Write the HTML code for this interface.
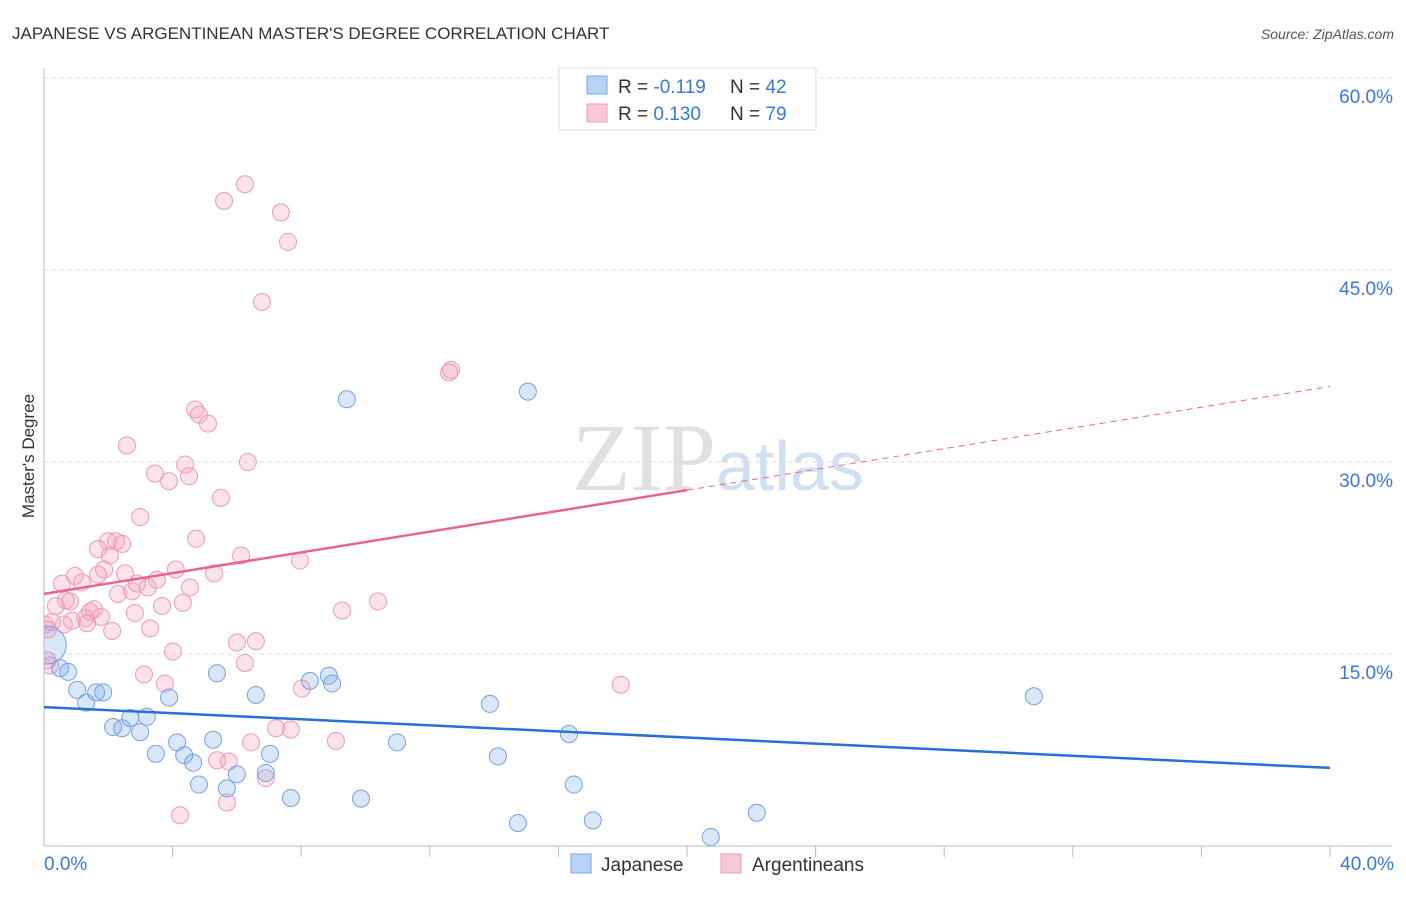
<!DOCTYPE html>
<html><head><meta charset="utf-8"><style>
body{margin:0;background:#fff;font-family:"Liberation Sans",sans-serif}
</style></head><body>
<svg id="c" width="1406" height="892" xmlns="http://www.w3.org/2000/svg" font-family="Liberation Sans, sans-serif">
<defs><clipPath id="plot"><rect x="44" y="60" width="1360" height="786"/></clipPath></defs>
<text x="12" y="39" font-size="17" fill="#333">JAPANESE VS ARGENTINEAN MASTER'S DEGREE CORRELATION CHART</text>
<text x="1394" y="39" font-size="14" fill="#555" font-style="italic" text-anchor="end">Source: ZipAtlas.com</text>
<text x="34" y="456" font-size="17" fill="#333" text-anchor="middle" transform="rotate(-90 34 456)">Master's Degree</text>
<text x="716" y="490" font-size="96" fill="#e0e0e0" font-family="Liberation Serif, serif" text-anchor="end">ZIP</text>
<text x="716" y="490" font-size="70" fill="#d0e0f2">atlas</text>
<g id="grid"></g><g id="axes"></g><g id="pts" clip-path="url(#plot)"></g><g id="lines"></g>
<g>
<rect x="559" y="68" width="257" height="62" fill="#fff" stroke="#ddd"/>
<rect x="587" y="76" width="20" height="18" fill="#b8d3f5" stroke="#7aa7e6"/>
<rect x="587" y="104" width="20" height="18" fill="#f9c8d7" stroke="#eb9ab5"/>
<text x="618" y="93" font-size="19" fill="#333">R = <tspan fill="#3a78d8">-0.119</tspan></text>
<text x="730" y="93" font-size="19" fill="#333">N = <tspan fill="#3a78d8">42</tspan></text>
<text x="618" y="120" font-size="19" fill="#333">R = <tspan fill="#3a78d8"> 0.130</tspan></text>
<text x="730" y="120" font-size="19" fill="#333">N = <tspan fill="#3a78d8">79</tspan></text>
</g>
<g>
<rect x="571" y="854" width="20" height="19" fill="#b8d3f5" stroke="#7aa7e6"/>
<text x="601" y="871" font-size="19" fill="#333">Japanese</text>
<rect x="721" y="854" width="20" height="19" fill="#f9c8d7" stroke="#eb9ab5"/>
<text x="752" y="871" font-size="19" fill="#333">Argentineans</text>
</g>
</svg>
<script>
const yTicks=[15,30,45,60];
const yTickLabels=["15.0%","30.0%","45.0%","60.0%"];
const xTickLabels=["0.0%","40.0%"];
const jpX=[0.75,0.5,1.03,1.31,1.62,1.84,2.15,2.43,2.68,2.99,3.2,3.48,3.89,4.14,4.36,4.64,4.82,5.26,5.38,5.69,6.0,6.59,6.9,7.03,7.68,8.27,8.86,8.96,9.42,9.86,10.98,13.87,14.12,14.74,15.05,16.33,16.48,17.07,20.74,22.17,30.79,0.1];
const jpY=[13.6,13.9,12.2,11.2,12.0,12.0,9.3,9.2,10.0,8.9,10.1,7.2,11.6,8.1,7.1,6.5,4.8,8.3,13.5,4.5,5.6,11.8,5.7,7.2,3.75,12.9,13.3,12.7,34.9,3.7,8.1,11.1,7.0,1.8,35.5,8.75,4.8,2.0,0.7,2.6,11.7,15.7];
const arX=[6.25,5.6,7.37,7.59,6.78,12.66,12.6,4.7,4.82,5.1,2.58,4.39,3.45,6.34,4.51,3.89,5.5,2.99,4.73,2.24,1.99,2.43,1.68,2.05,6.13,7.96,4.1,1.87,1.68,2.52,5.29,0.96,1.18,0.56,2.89,3.51,3.23,4.54,2.74,2.3,0.68,0.81,0.37,3.67,4.32,10.39,9.27,1.56,1.43,2.83,1.28,1.77,0.87,0.25,0.62,1.34,2.12,3.3,0.12,6.0,6.59,4.01,6.25,0.19,3.11,3.76,8.02,17.94,7.22,7.68,9.08,6.44,5.38,5.75,6.9,5.69,4.23,0.1,0.03];
const arY=[51.7,50.4,49.5,47.2,42.5,37.2,37.0,34.1,33.7,33.0,31.3,29.8,29.1,30.0,28.9,28.5,27.2,25.7,24.0,23.8,23.8,23.6,23.2,22.7,22.7,22.3,21.6,21.6,21.2,21.3,21.3,21.1,20.6,20.5,20.5,20.8,20.2,20.2,19.9,19.7,19.2,19.1,18.75,18.75,19.0,19.1,18.4,18.5,18.3,18.2,17.8,17.9,17.6,17.5,17.3,17.4,16.8,17.0,16.9,15.9,16.0,15.2,14.3,14.1,13.4,12.7,12.3,12.6,9.2,9.1,8.2,8.1,6.7,6.6,5.3,3.4,2.4,14.5,17.3];
const jpLine=[10.85,6.1];
const arLine=[19.7,35.9];
const NS="http://www.w3.org/2000/svg";
const X=v=>44+v/40*1286, Y=v=>846-v/60*768;
function mk(p,t,a){const e=document.createElementNS(NS,t);for(const k in a)e.setAttribute(k,a[k]);document.getElementById(p).appendChild(e);return e;}
yTicks.forEach((t,i)=>{
 const g=mk('grid','line',{x1:44,x2:1392,y1:Y(t),y2:Y(t),stroke:'#ddd','stroke-dasharray':'4 4'});
 
 
 const l=mk('grid','text',{x:1393,y:Y(t)+25,'font-size':19,fill:'#3a78d8','text-anchor':'end'});l.textContent=yTickLabels[i];
 
 
});
mk('axes','line',{x1:44,x2:44,y1:68,y2:846,stroke:'#bbb'});
mk('axes','line',{x1:44,x2:1392,y1:846,y2:846,stroke:'#bbb'});
for(let i=1;i<=10;i++){mk('axes','line',{x1:X(i*4),x2:X(i*4),y1:846,y2:857,stroke:'#bbb'});}
const x0=mk('axes','text',{x:44,y:870,'font-size':19,fill:'#3a78d8'});x0.textContent=xTickLabels[0];


const x1=mk('axes','text',{x:1394,y:870,'font-size':19,fill:'#3a78d8','text-anchor':'end'});x1.textContent=xTickLabels[1];


arX.forEach((v,i)=>{const c=mk('pts','circle',{cx:X(v),cy:Y(arY[i]),r:8.5,fill:'rgba(244,160,188,0.3)',stroke:'#eb9ab5','stroke-width':1});
 
 });
jpX.forEach((v,i)=>{const c=mk('pts','circle',{cx:X(v),cy:Y(jpY[i]),r:i==jpX.length-1?19:8.5,fill:'rgba(120,170,235,0.28)',stroke:'#74a2e2','stroke-width':1});
 
 });
const bl=mk('lines','line',{x1:X(0),y1:Y(jpLine[0]),x2:X(40),y2:Y(jpLine[1]),stroke:'#2a6fd6','stroke-width':2.5});


const mid=arLine[0]+(arLine[1]-arLine[0])*0.5;
const pl=mk('lines','line',{x1:X(0),y1:Y(arLine[0]),x2:X(20),y2:Y(mid),stroke:'#e8658f','stroke-width':2.5});


const pd=mk('lines','line',{x1:X(20),y1:Y(mid),x2:X(40),y2:Y(arLine[1]),stroke:'#e8658f','stroke-width':1,'stroke-dasharray':'6 5'});


</script>
</body></html>
